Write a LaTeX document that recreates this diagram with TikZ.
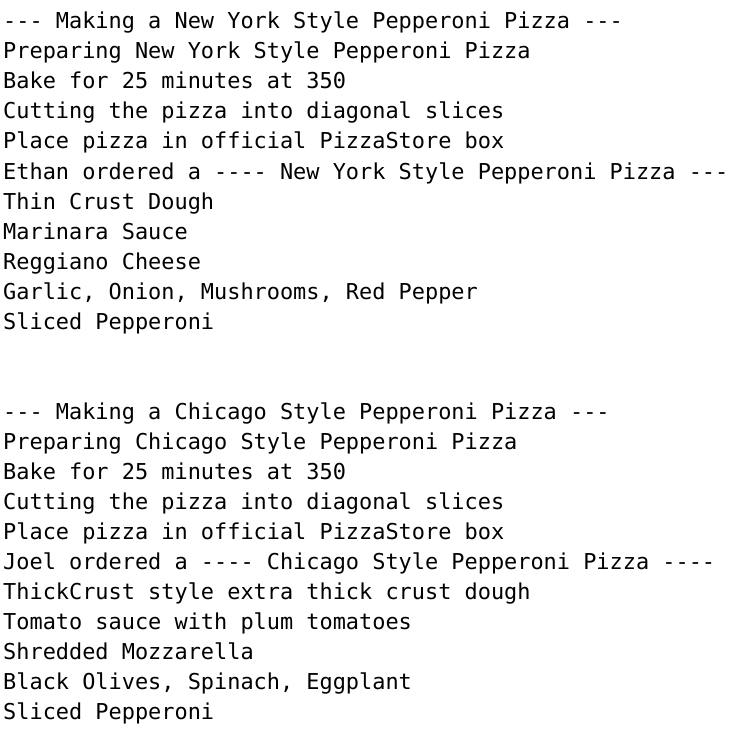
\documentclass[tikz,border=0pt]{standalone}
\usepackage{fontspec}
\setmonofont{DejaVu Sans Mono}
\usepackage{tikz}

\begin{document}
\begin{tikzpicture}[x=1pt,y=1pt]
\tikzstyle{every node}=[font=\ttfamily\fontsize{21.9}{30}\selectfont, anchor=base west, inner sep=0pt]

% Page frame
\useasboundingbox[fill=white] (0,0) rectangle (730,-738);

% New York pizza
\node (ny0) at (3,-29) {--- Making a New York Style Pepperoni Pizza ---};
\node (ny1) at (3,-59) {Preparing New York Style Pepperoni Pizza};
\node (ny2) at (3,-89) {Bake for 25 minutes at 350};
\node (ny3) at (3,-119) {Cutting the pizza into diagonal slices};
\node (ny4) at (3,-149) {Place pizza in official PizzaStore box};
\node (ny5) at (3,-179) {Ethan ordered a ---- New York Style Pepperoni Pizza ---};
\node (ny6) at (3,-209) {Thin Crust Dough};
\node (ny7) at (3,-239) {Marinara Sauce};
\node (ny8) at (3,-269) {Reggiano Cheese};
\node (ny9) at (3,-299) {Garlic, Onion, Mushrooms, Red Pepper};
\node (ny10) at (3,-329) {Sliced Pepperoni};

% Chicago pizza
\node (ch0) at (3,-419) {--- Making a Chicago Style Pepperoni Pizza ---};
\node (ch1) at (3,-449) {Preparing Chicago Style Pepperoni Pizza};
\node (ch2) at (3,-479) {Bake for 25 minutes at 350};
\node (ch3) at (3,-509) {Cutting the pizza into diagonal slices};
\node (ch4) at (3,-539) {Place pizza in official PizzaStore box};
\node (ch5) at (3,-569) {Joel ordered a ---- Chicago Style Pepperoni Pizza ----};
\node (ch6) at (3,-599) {ThickCrust style extra thick crust dough};
\node (ch7) at (3,-629) {Tomato sauce with plum tomatoes};
\node (ch8) at (3,-659) {Shredded Mozzarella};
\node (ch9) at (3,-689) {Black Olives, Spinach, Eggplant};
\node (ch10) at (3,-719) {Sliced Pepperoni};

\end{tikzpicture}
\end{document}
